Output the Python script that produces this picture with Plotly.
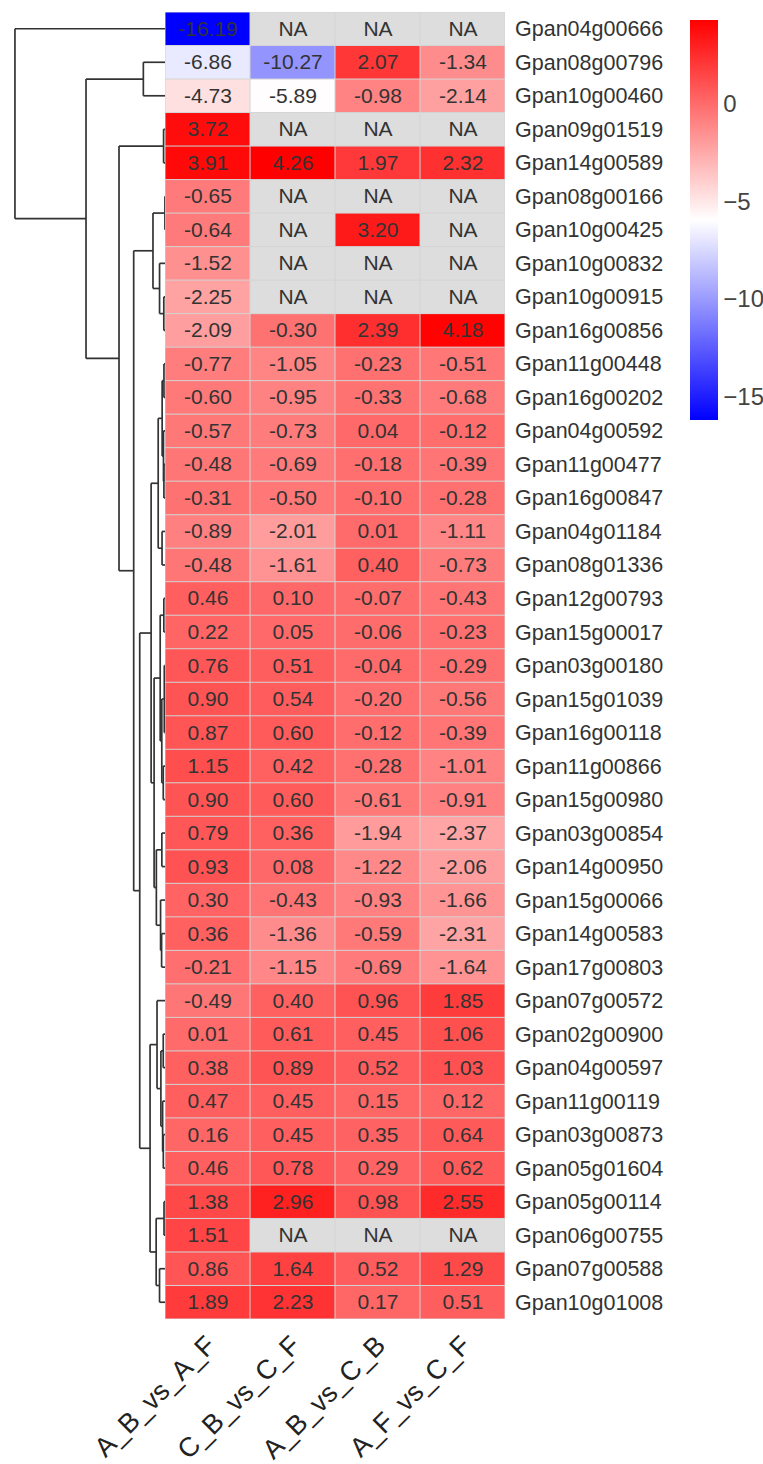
import numpy as np
import plotly.graph_objects as go

# ---------------- data ----------------
genes = ["Gpan04g00666", "Gpan08g00796", "Gpan10g00460", "Gpan09g01519", "Gpan14g00589",
         "Gpan08g00166", "Gpan10g00425", "Gpan10g00832", "Gpan10g00915", "Gpan16g00856",
         "Gpan11g00448", "Gpan16g00202", "Gpan04g00592", "Gpan11g00477", "Gpan16g00847",
         "Gpan04g01184", "Gpan08g01336", "Gpan12g00793", "Gpan15g00017", "Gpan03g00180",
         "Gpan15g01039", "Gpan16g00118", "Gpan11g00866", "Gpan15g00980", "Gpan03g00854",
         "Gpan14g00950", "Gpan15g00066", "Gpan14g00583", "Gpan17g00803", "Gpan07g00572",
         "Gpan02g00900", "Gpan04g00597", "Gpan11g00119", "Gpan03g00873", "Gpan05g01604",
         "Gpan05g00114", "Gpan06g00755", "Gpan07g00588", "Gpan10g01008"]

comparisons = ["A_B_vs_A_F", "C_B_vs_C_F", "A_B_vs_C_B", "A_F_vs_C_F"]

ab_vs_af = [-16.19, -6.86, -4.73, 3.72, 3.91, -0.65, -0.64, -1.52, -2.25, -2.09,
            -0.77, -0.60, -0.57, -0.48, -0.31, -0.89, -0.48, 0.46, 0.22, 0.76,
            0.90, 0.87, 1.15, 0.90, 0.79, 0.93, 0.30, 0.36, -0.21, -0.49,
            0.01, 0.38, 0.47, 0.16, 0.46, 1.38, 1.51, 0.86, 1.89]
cb_vs_cf = [None, -10.27, -5.89, None, 4.26, None, None, None, None, -0.30,
            -1.05, -0.95, -0.73, -0.69, -0.50, -2.01, -1.61, 0.10, 0.05, 0.51,
            0.54, 0.60, 0.42, 0.60, 0.36, 0.08, -0.43, -1.36, -1.15, 0.40,
            0.61, 0.89, 0.45, 0.45, 0.78, 2.96, None, 1.64, 2.23]
ab_vs_cb = [None, 2.07, -0.98, None, 1.97, None, 3.20, None, None, 2.39,
            -0.23, -0.33, 0.04, -0.18, -0.10, 0.01, 0.40, -0.07, -0.06, -0.04,
            -0.20, -0.12, -0.28, -0.61, -1.94, -1.22, -0.93, -0.59, -0.69, 0.96,
            0.45, 0.52, 0.15, 0.35, 0.29, 0.98, None, 0.52, 0.17]
af_vs_cf = [None, -1.34, -2.14, None, 2.32, None, None, None, None, 4.18,
            -0.51, -0.68, -0.12, -0.39, -0.28, -1.11, -0.73, -0.43, -0.23, -0.29,
            -0.56, -0.39, -1.01, -0.91, -2.37, -2.06, -1.66, -2.31, -1.64, 1.85,
            1.06, 1.03, 0.12, 0.64, 0.62, 2.55, None, 1.29, 0.51]

colorbar_ticks = [0, -5, -10, -15]

# ---------------- matrix ----------------
columns = [ab_vs_af, cb_vs_cf, ab_vs_cb, af_vs_cf]
n_rows = len(genes)
n_cols = len(comparisons)
X = np.array(columns, dtype=float).T  # rows x cols, NaN for NA

z_main = [[None if np.isnan(X[i, j]) else float(X[i, j]) for j in range(n_cols)] for i in range(n_rows)]
txt_main = [["" if np.isnan(X[i, j]) else f"{X[i, j]:.2f}" for j in range(n_cols)] for i in range(n_rows)]
z_na = [[1 if np.isnan(X[i, j]) else None for j in range(n_cols)] for i in range(n_rows)]
txt_na = [["NA" if np.isnan(X[i, j]) else "" for j in range(n_cols)] for i in range(n_rows)]

zmin = float(np.nanmin(X))
zmax = float(np.nanmax(X))

# ---------------- row clustering (euclidean w/ NA scaling, complete linkage) ----------------
D = np.zeros((n_rows, n_rows))
for i in range(n_rows):
    for j in range(i + 1, n_rows):
        m = ~np.isnan(X[i]) & ~np.isnan(X[j])
        d = np.sqrt(np.sum((X[i, m] - X[j, m]) ** 2) * n_cols / m.sum())
        D[i, j] = D[j, i] = d

nodes = {i: {"members": [i], "h": 0.0, "pos": float(i)} for i in range(n_rows)}
active = list(range(n_rows))
next_id = n_rows
seg_x, seg_y = [], []
while len(active) > 1:
    best = None
    for ai in range(len(active)):
        for bi in range(ai + 1, len(active)):
            a, b = active[ai], active[bi]
            d = D[np.ix_(nodes[a]["members"], nodes[b]["members"])].max()
            if best is None or d < best[0]:
                best = (d, a, b)
    d, a, b = best
    na_, nb_ = nodes[a], nodes[b]
    seg_x += [d, d, None]
    seg_y += [na_["pos"], nb_["pos"], None]
    seg_x += [na_["h"], d, None, nb_["h"], d, None]
    seg_y += [na_["pos"], na_["pos"], None, nb_["pos"], nb_["pos"], None]
    nodes[next_id] = {"members": na_["members"] + nb_["members"], "h": d,
                      "pos": (na_["pos"] + nb_["pos"]) / 2}
    active.remove(a)
    active.remove(b)
    active.append(next_id)
    next_id += 1
hmax = nodes[active[0]]["h"]

# ---------------- grid lines between cells ----------------
gx, gy = [], []
for k in range(n_cols + 1):
    gx += [k - 0.5, k - 0.5, None]
    gy += [-0.5, n_rows - 0.5, None]
for k in range(n_rows + 1):
    gx += [-0.5, n_cols - 0.5, None]
    gy += [k - 0.5, k - 0.5, None]

# ---------------- figure ----------------
W, H = 763, 1464
FONT = "Liberation Sans, Arial, sans-serif"
TXT = "#333333"

fig = go.Figure()
fig.add_trace(go.Heatmap(
    x=list(range(n_cols)), y=list(range(n_rows)), z=z_main,
    text=txt_main, texttemplate="%{text}",
    textfont=dict(family=FONT, size=21, color=TXT),
    colorscale=[[0, "#0000FF"], [0.5, "#FFFFFF"], [1, "#FF0000"]],
    zmin=zmin, zmax=zmax, hoverinfo="skip",
    colorbar=dict(
        x=680 / W, xanchor="left", y=1 - 10 / H, yanchor="top",
        lenmode="pixels", len=420, thickness=28, outlinewidth=0,
        tickvals=colorbar_ticks, ticks="", ticklabelposition="outside",
        tickfont=dict(family=FONT, size=24, color="#444444"),
    ),
))
fig.add_trace(go.Heatmap(
    x=list(range(n_cols)), y=list(range(n_rows)), z=z_na,
    text=txt_na, texttemplate="%{text}",
    textfont=dict(family=FONT, size=21, color=TXT),
    colorscale=[[0, "#DDDDDD"], [1, "#DDDDDD"]], showscale=False, hoverinfo="skip",
))
fig.add_trace(go.Scatter(
    x=gx, y=gy, mode="lines", line=dict(color="#D4D4D4", width=1),
    hoverinfo="skip", showlegend=False,
))
fig.add_trace(go.Scatter(
    x=seg_x, y=seg_y, mode="lines", line=dict(color="#333333", width=1.7),
    xaxis="x2", yaxis="y2", hoverinfo="skip", showlegend=False,
))

ydom = [1 - 1319 / H, 1 - 12 / H]
fig.update_layout(
    width=W, height=H, margin=dict(l=0, r=0, t=0, b=0, autoexpand=False),
    paper_bgcolor="white", plot_bgcolor="white", showlegend=False,
    font=dict(family=FONT, color=TXT),
    xaxis=dict(domain=[165 / W, 505 / W], range=[-0.5, n_cols - 0.5],
               tickvals=list(range(n_cols)), ticktext=comparisons, tickangle=-45,
               tickfont=dict(family=FONT, size=27, color="#222222"),
               showgrid=False, zeroline=False, showline=False, ticks="",
               ticklabelstandoff=4, automargin=False, anchor="y"),
    yaxis=dict(domain=ydom, range=[n_rows - 0.5, -0.5], side="right",
               tickvals=list(range(n_rows)), ticktext=genes,
               tickfont=dict(family=FONT, size=21.5, color="#333333"),
               showgrid=False, zeroline=False, showline=False, ticks="",
               ticklabelstandoff=9, automargin=False, anchor="x"),
    xaxis2=dict(domain=[13 / W, 165 / W], range=[hmax * 1.013, 0], visible=False,
                anchor="y2", automargin=False),
    yaxis2=dict(domain=ydom, range=[n_rows - 0.5, -0.5], visible=False, anchor="x2",
                automargin=False),
)

fig.write_html("out.html", config={"displayModeBar": False},
               post_script="document.body.style.margin='0px';")
